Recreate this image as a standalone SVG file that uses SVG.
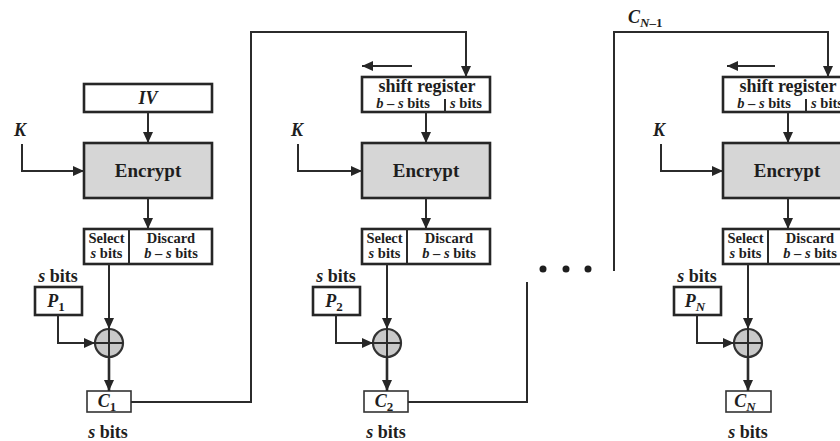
<svg xmlns="http://www.w3.org/2000/svg" width="840" height="441" viewBox="0 0 840 441">
<defs>
<marker id="ah" markerUnits="userSpaceOnUse" markerWidth="12" markerHeight="10" refX="11" refY="5" orient="auto">
<path d="M0,0 L11,5 L0,10 z" fill="#262626"/>
</marker>
<style>
.box{fill:#fff;stroke:#262626;stroke-width:2.6}
.enc{fill:#d6d6d6;stroke:#262626;stroke-width:2.6}
.thin{fill:#fff;stroke:#333;stroke-width:1.6}
.ln{fill:none;stroke:#2b2b2b;stroke-width:2}
.ar{fill:none;stroke:#2b2b2b;stroke-width:2;marker-end:url(#ah)}
.ar2{fill:none;stroke:#2b2b2b;stroke-width:2.6;marker-end:url(#ah)}
.xor{fill:#c9c9c9;stroke:#333;stroke-width:2.2}
text{font-family:"Liberation Serif","Times New Roman",serif;font-weight:bold;fill:#1e1e1e;text-anchor:middle}
.it{font-style:italic}
.big{font-size:19px}
.reg{font-size:18px}
.med{font-size:18px}
.sm{font-size:14.5px}
.sub{font-size:13px;font-style:normal}
</style>
</defs>
<rect width="840" height="441" fill="#fff"/>

<!-- Column 1 -->
<g id="iv"><rect class="box" x="84" y="84" width="128" height="28"/><text class="med it" x="148" y="104">IV</text></g>
<g id="k1"><text class="med it" x="20" y="136">K</text></g>
<g id="encrypt1"><rect class="enc" x="84" y="143" width="128" height="55"/><text class="big" x="148" y="177">Encrypt</text></g>
<g id="select1"><rect class="box" x="84" y="229" width="128" height="35"/><line class="ln" x1="129" y1="229" x2="129" y2="264"/>
<text class="sm" x="106.5" y="243">Select</text><text class="sm" x="106.5" y="258"><tspan class="it">s</tspan> bits</text>
<text class="sm" x="171" y="243">Discard</text><text class="sm" x="171" y="258"><tspan class="it">b</tspan> – <tspan class="it">s</tspan> bits</text></g>
<g id="p1"><text class="med" x="58" y="282"><tspan class="it">s</tspan> bits</text><rect class="box" x="35" y="287" width="47" height="28"/><text class="med it" x="56" y="307">P<tspan class="sub" dy="4">1</tspan></text></g>
<g id="xor1"><circle class="xor" cx="109" cy="343" r="14"/><path class="ln" d="M95,343 H123 M109,329 V357" stroke-width="1.8"/></g>
<g id="c1"><rect class="thin" x="87" y="391" width="44" height="21"/><text class="med it" x="107" y="407">C<tspan class="sub" dy="4">1</tspan></text><text class="med" x="108" y="438"><tspan class="it">s</tspan> bits</text></g>

<!-- Column 2 -->
<g id="shift2"><rect class="box" x="362" y="77" width="128" height="35"/><line class="ln" x1="445" y1="99" x2="445" y2="112" stroke-width="1.5"/>
<text class="reg" x="427" y="92">shift register</text>
<text class="sm" x="403" y="108"><tspan class="it">b</tspan> – <tspan class="it">s</tspan> bits</text><text class="sm" x="466" y="108"><tspan class="it">s</tspan> bits</text></g>
<g id="k2"><text class="med it" x="297" y="136">K</text></g>
<g id="encrypt2"><rect class="enc" x="362" y="143" width="128" height="55"/><text class="big" x="426" y="177">Encrypt</text></g>
<g id="select2"><rect class="box" x="362" y="229" width="128" height="35"/><line class="ln" x1="407" y1="229" x2="407" y2="264"/>
<text class="sm" x="384.5" y="243">Select</text><text class="sm" x="384.5" y="258"><tspan class="it">s</tspan> bits</text>
<text class="sm" x="449" y="243">Discard</text><text class="sm" x="449" y="258"><tspan class="it">b</tspan> – <tspan class="it">s</tspan> bits</text></g>
<g id="p2"><text class="med" x="336" y="282"><tspan class="it">s</tspan> bits</text><rect class="box" x="313" y="287" width="47" height="28"/><text class="med it" x="334" y="307">P<tspan class="sub" dy="4">2</tspan></text></g>
<g id="xor2"><circle class="xor" cx="387" cy="343" r="14"/><path class="ln" d="M373,343 H401 M387,329 V357" stroke-width="1.8"/></g>
<g id="c2"><rect class="thin" x="364" y="391" width="44" height="21"/><text class="med it" x="384" y="407">C<tspan class="sub" dy="4">2</tspan></text><text class="med" x="386" y="438"><tspan class="it">s</tspan> bits</text></g>

<!-- Column 3 -->
<g id="cn1label"><text class="med it" x="628" y="23" style="text-anchor:start">C<tspan class="sub it" dy="4" style="font-style:italic">N</tspan><tspan class="sub">–1</tspan></text></g>
<g id="shift3"><rect class="box" x="723" y="77" width="128" height="35"/><line class="ln" x1="806" y1="99" x2="806" y2="112" stroke-width="1.5"/>
<text class="reg" x="788" y="92">shift register</text>
<text class="sm" x="764" y="108"><tspan class="it">b</tspan> – <tspan class="it">s</tspan> bits</text><text class="sm" x="827" y="108"><tspan class="it">s</tspan> bits</text></g>
<g id="k3"><text class="med it" x="659" y="136">K</text></g>
<g id="encrypt3"><rect class="enc" x="723" y="143" width="128" height="55"/><text class="big" x="787" y="177">Encrypt</text></g>
<g id="select3"><rect class="box" x="723" y="229" width="128" height="35"/><line class="ln" x1="768" y1="229" x2="768" y2="264"/>
<text class="sm" x="745.5" y="243">Select</text><text class="sm" x="745.5" y="258"><tspan class="it">s</tspan> bits</text>
<text class="sm" x="810" y="243">Discard</text><text class="sm" x="810" y="258"><tspan class="it">b</tspan> – <tspan class="it">s</tspan> bits</text></g>
<g id="pn"><text class="med" x="697" y="282"><tspan class="it">s</tspan> bits</text><rect class="box" x="674" y="287" width="47" height="28"/><text class="med it" x="695" y="307">P<tspan class="sub it" dy="4" style="font-style:italic">N</tspan></text></g>
<g id="xor3"><circle class="xor" cx="748" cy="343" r="14"/><path class="ln" d="M734,343 H762 M748,329 V357" stroke-width="1.8"/></g>
<g id="cn"><rect class="thin" x="726" y="391" width="45" height="21"/><text class="med it" x="745" y="407">C<tspan class="sub it" dy="4" style="font-style:italic">N</tspan></text><text class="med" x="748" y="438"><tspan class="it">s</tspan> bits</text></g>

<g id="dots"><circle cx="543" cy="269" r="3.5" fill="#1e1e1e"/><circle cx="566" cy="269" r="3.5" fill="#1e1e1e"/><circle cx="588" cy="269" r="3.5" fill="#1e1e1e"/></g>

<!-- Connectors -->
<g id="connectors">
<path class="ar" d="M148,112 V143"/>
<path class="ar" d="M22,144 V171 H84"/>
<path class="ar" d="M148,198 V229"/>
<path class="ar" d="M109,264 V329"/>
<path class="ar" d="M58,315 V343 H95"/>
<path class="ar2" d="M109,357 V391"/>
<path class="ar" d="M131,402 H251 V32 H466 V77"/>

<path class="ar" d="M412,66 H362"/>
<path class="ar" d="M426,112 V143"/>
<path class="ar" d="M298,144 V171 H362"/>
<path class="ar" d="M426,198 V229"/>
<path class="ar" d="M387,264 V329"/>
<path class="ar" d="M336,315 V343 H373"/>
<path class="ar2" d="M387,357 V391"/>
<path class="ln" d="M408,402 H527 V282"/>

<path class="ar" d="M614,271 V32 H828 V77"/>
<path class="ar" d="M775,66 H727"/>
<path class="ar" d="M788,112 V143"/>
<path class="ar" d="M661,144 V171 H723"/>
<path class="ar" d="M788,198 V229"/>
<path class="ar" d="M748,264 V329"/>
<path class="ar" d="M697,315 V343 H734"/>
<path class="ar2" d="M748,357 V391"/>
</g>
</svg>
